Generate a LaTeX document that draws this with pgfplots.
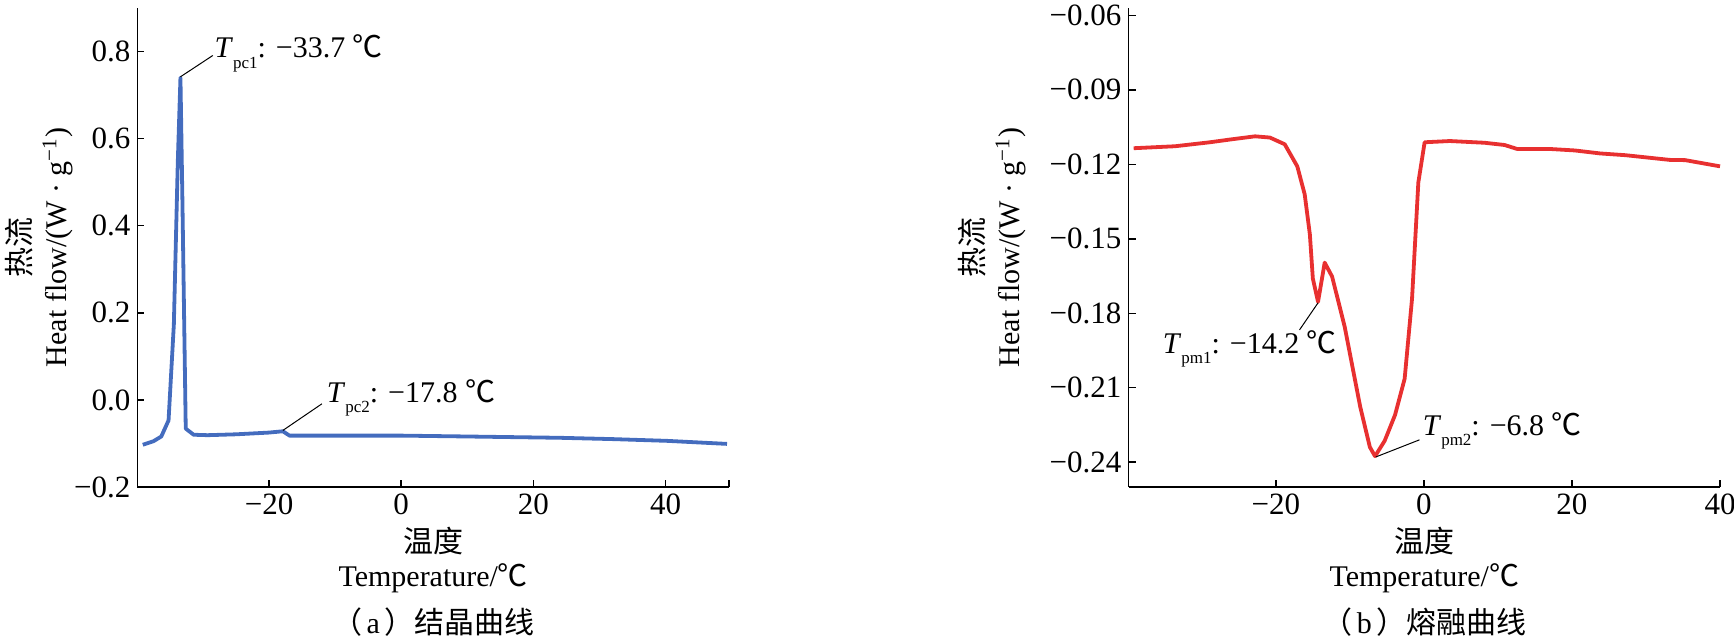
\documentclass[border=0pt]{standalone}
\usepackage{pgfplots}
\pgfplotsset{compat=1.18}
\usepackage{fontspec}
\setmainfont{Liberation Serif}
\newfontfamily\cjk{Noto Sans CJK SC}
\definecolor{cblue}{RGB}{68,108,190}
\definecolor{cred}{RGB}{232,48,48}
\newcommand{\sub}[1]{\raisebox{-0.35em}{\fontsize{8.5}{9}\selectfont #1}}
\begin{document}
\begin{tikzpicture}[font=\fontsize{15}{18}\selectfont]
\useasboundingbox (0,0) rectangle (867pt,319pt);
\pgfplotsset{myax/.style={scale only axis, width=295.75pt, height=239.5pt,
  axis lines=left, axis line style={-, line width=0.7pt},
  tick align=inside, major tick length=3.5pt, tick style={black, line width=0.7pt},
  anchor=south west, clip=false,
  ticklabel style={font=\fontsize{15.5}{18}\selectfont}}}
% ---------------- (a)
\begin{axis}[myax, at={(68.75pt,75.5pt)},
  xmin=-39.9, xmax=49.6, ymin=-0.2, ymax=0.9,
  xtick={-20,0,20,40,49.6}, xticklabels={−20,0,20,40,{}},
  ytick={-0.2,0,0.2,0.4,0.6,0.8}, yticklabels={−0.2,0.0,0.2,0.4,0.6,0.8}]
\addplot[cblue, line width=1.9pt, line join=round] coordinates {
(-39.1,-0.103) (-37.5,-0.095) (-36.3,-0.084) (-35.2,-0.047) (-34.4,0.173)
(-33.8,0.548) (-33.4,0.740) (-33.1,0.454) (-32.6,-0.066) (-31.4,-0.080)
(-29.3,-0.081) (-25,-0.079) (-20,-0.075) (-17.9,-0.072) (-16.9,-0.082)
(-10,-0.082) (0,-0.082) (10,-0.084) (24,-0.087) (32,-0.090) (40.2,-0.094) (49.3,-0.101)};
\draw[line width=0.5pt] (axis cs:-33.4,0.742) -- (axis cs:-28.5,0.791);
\node[anchor=west, inner sep=0pt] at (axis cs:-28.3,0.796) {\textit{T}\sub{pc1}: −33.7 {\cjk ℃}};
\draw[line width=0.5pt] (axis cs:-17.9,-0.070) -- (axis cs:-12.0,-0.009);
\node[anchor=west, inner sep=0pt] at (axis cs:-11.3,0.005) {\textit{T}\sub{pc2}: −17.8 {\cjk ℃}};
\node[xshift=-49pt, rotate=90, align=center] at (rel axis cs:0,0.5) {{\cjk 热流}\\Heat flow/(W · g\textsuperscript{−1})};
\node[yshift=-27pt] at (rel axis cs:0.5,0) {\cjk 温度};
\node[yshift=-45.5pt] at (rel axis cs:0.5,0) {Temperature/{\cjk ℃}};
\node[yshift=-67.5pt] at (rel axis cs:0.5,0) {{\cjk （}\hspace{0.15em}a\hspace{0.15em}{\cjk ）结晶曲线}};
\end{axis}
% ---------------- (b)
\begin{axis}[myax, at={(564.25pt,75.5pt)},
  xmin=-39.9, xmax=40, ymin=-0.25, ymax=-0.057,
  xtick={-20,0,20,40}, xticklabels={−20,0,20,40},
  ytick={-0.24,-0.21,-0.18,-0.15,-0.12,-0.09,-0.06},
  yticklabels={−0.24,−0.21,−0.18,−0.15,−0.12,−0.09,−0.06}]
\addplot[cred, line width=1.9pt, line join=round] coordinates {
(-39.2,-0.1135) (-33.6,-0.1127) (-28.9,-0.1111) (-26.2,-0.1100) (-22.8,-0.1087)
(-20.8,-0.1092) (-18.8,-0.1119) (-17.1,-0.1208) (-16.1,-0.1321) (-15.4,-0.1483)
(-15.0,-0.1660) (-14.3,-0.1754) (-13.4,-0.1596) (-12.4,-0.1652) (-10.7,-0.1854)
(-8.6,-0.2177) (-7.3,-0.2339) (-6.6,-0.2376) (-5.3,-0.2314) (-3.9,-0.2210)
(-2.6,-0.2064) (-1.6,-0.1741) (-0.75,-0.1273) (0.1,-0.1111) (3.5,-0.1106)
(8.2,-0.1113) (10.9,-0.1122) (12.6,-0.1138) (17.0,-0.1138) (20.4,-0.1144)
(23.8,-0.1156) (27.2,-0.1163) (33.2,-0.1182) (35.3,-0.1183) (40.0,-0.1208)};
\draw[line width=0.5pt] (axis cs:-14.3,-0.1758) -- (axis cs:-16.8,-0.1867);
\node[anchor=west, inner sep=0pt] at (axis cs:-35.3,-0.1943) {\textit{T}\sub{pm1}: −14.2 {\cjk ℃}};
\draw[line width=0.5pt] (axis cs:-6.5,-0.2379) -- (axis cs:-0.6,-0.2310);
\node[anchor=west, inner sep=0pt] at (axis cs:-0.2,-0.2274) {\textit{T}\sub{pm2}: −6.8 {\cjk ℃}};
\node[xshift=-68pt, rotate=90, align=center] at (rel axis cs:0,0.5) {{\cjk 热流}\\Heat flow/(W · g\textsuperscript{−1})};
\node[yshift=-27pt] at (rel axis cs:0.5,0) {\cjk 温度};
\node[yshift=-45.5pt] at (rel axis cs:0.5,0) {Temperature/{\cjk ℃}};
\node[yshift=-67.5pt] at (rel axis cs:0.5,0) {{\cjk （}\hspace{0.15em}b\hspace{0.15em}{\cjk ）熔融曲线}};
\end{axis}
\end{tikzpicture}
\end{document}
